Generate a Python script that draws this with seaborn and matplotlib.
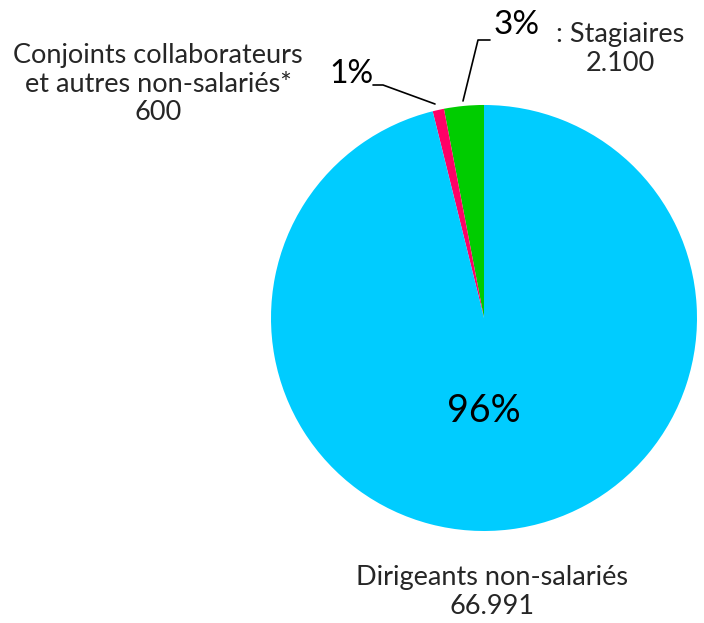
import matplotlib
matplotlib.use("Agg")
import matplotlib.pyplot as plt
import seaborn as sns

# data
categories = ["Stagiaires", "Conjoints collaborateurs\net autres non-salariés*", "Dirigeants non-salariés"]
values = [2100, 600, 66991]
value_labels = ["2.100", "600", "66.991"]
colors = ["#00CC00", "#FF0066", "#00CCFF"]

sns.set_theme(style="white")
plt.rcParams['font.family'] = ['Lato', 'DejaVu Sans']

W, H = 704, 623
fig = plt.figure(figsize=(W / 100, H / 100), dpi=100)
ax = fig.add_axes([0, 0, 1, 1])


def py(y):
    # pixel row -> data y
    return H - y


cx, cy, r = 484, 318, 213
ax.pie(values, colors=colors, startangle=90, counterclock=True,
       center=(cx, py(cy)), radius=r, explode=[0.025, 0, 0],
       wedgeprops=dict(linewidth=0))

# pie() resets the limits, so fix them afterwards
ax.set_xlim(0, W)
ax.set_ylim(0, H)
ax.set_aspect('equal')
ax.axis('off')

total = sum(values)
pct = [f"{round(v / total * 100)}%" for v in values]

# percent labels
ax.text(517, py(25), pct[0], fontsize=24, ha='center', va='center', color='black')
ax.text(351, py(74), pct[1], fontsize=23, ha='center', va='center', color='black')
ax.text(484, py(411), pct[2], fontsize=27, ha='center', va='center', color='black')

# leader lines
ax.plot([490, 478, 463], [py(40), py(40), py(101)], color='black', lw=1.2)
ax.plot([373, 383, 435], [py(85), py(85), py(104)], color='black', lw=1.2)

# category labels
ax.text(158, py(84), f"{categories[1]}\n{value_labels[1]}", fontsize=19.5,
        ha='center', va='center', linespacing=1.2)
ax.text(620, py(49), f": {categories[0]}\n{value_labels[0]}", fontsize=19.5,
        ha='center', va='center', linespacing=1.2)
ax.text(492, py(592), f"{categories[2]}\n{value_labels[2]}", fontsize=19.5,
        ha='center', va='center', linespacing=1.2)

fig.savefig("out.png", dpi=100, facecolor='white')
